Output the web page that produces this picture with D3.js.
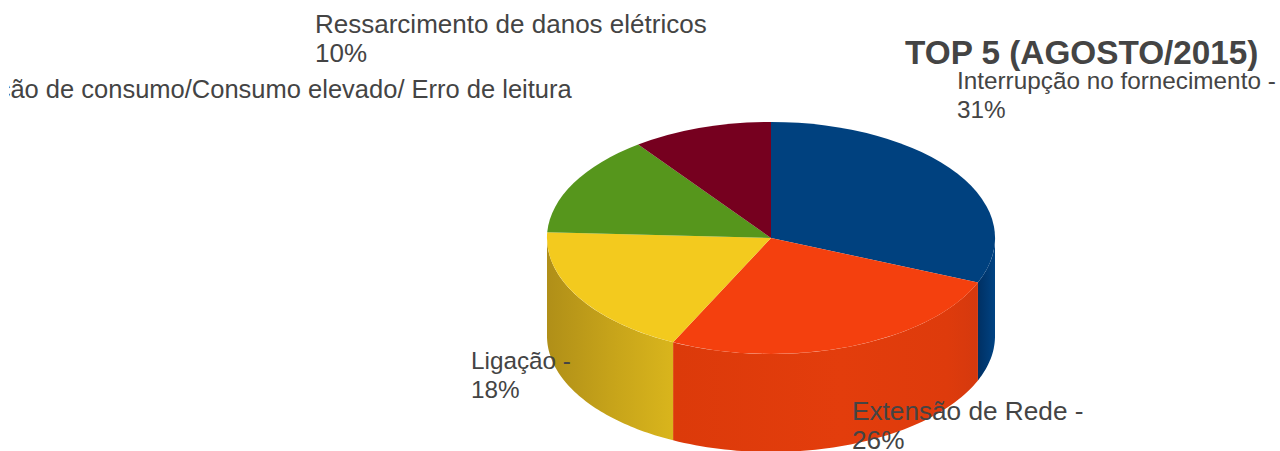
<!DOCTYPE html>
<html><head><meta charset="utf-8">
<script src="https://cdn.jsdelivr.net/npm/d3@7/dist/d3.min.js"></script>
<style>html,body{margin:0;padding:0;background:#fff;overflow:hidden}svg{display:block}text{font-family:"Liberation Sans",Arial,sans-serif;fill:#444}</style>
</head><body>
<script>
const categories = ["Interrupção no fornecimento","Extensão de Rede","Ligação","Variação de consumo/Consumo elevado/ Erro de leitura","Ressarcimento de danos elétricos"];
const values = [31.25,25.95,18.6,14.1,10.1];
const labelLines = [["Interrupção no fornecimento -","31%"],["Extensão de Rede -","26%"],["Ligação -","18%"],["Variação de consumo/Consumo elevado/ Erro de leitura"],["Ressarcimento de danos elétricos","10%"]];
const titleText = "TOP 5 (AGOSTO/2015)";
const topColors = ["#00417f","#f4400e","#f3ca1e","#56961c","#76001f"];
const sideStops = [[["0","#003063"],["1","#004383"]],[["0","#dc3a0a"],["0.55","#e33d0c"],["0.9","#de3b0c"],["1","#d5390e"]],[["0","#b08f18"],["0.5","#c6a31a"],["1","#d9b51c"]]];
const W=1280,H=451,cx=771,cy=238,rx=224,ry=116,depth=98;
const labelAnchors=[[957,89],[852,420],[471,369],[-60,98],[315,33]];
const labelSizes=[24.3,26.2,24.3,25.5,26];

const svg=d3.select("body").append("svg").attr("width",W).attr("height",H);
const defs=svg.append("defs");
defs.append("clipPath").attr("id","lc").append("rect").attr("x",9).attr("y",0).attr("width",W).attr("height",H);

const pie=d3.pie().sort(null).value(d=>d);
const arcs=pie(values);
const px=d3.scaleLinear().domain([-1,1]).range([cx-rx,cx+rx]);
const py=d3.scaleLinear().domain([-1,1]).range([cy-ry,cy+ry]);
const ptx=a=>px(Math.sin(a)), pty=a=>py(-Math.cos(a));

function sidePath(a0,a1){
  const n=60,up=d3.range(n+1).map(i=>a0+(a1-a0)*i/n);
  const top=up.map(a=>[ptx(a),pty(a)]);
  const bot=up.slice().reverse().map(a=>[ptx(a),pty(a)+depth]);
  return d3.line()(top.concat(bot))+"Z";
}
const vis=[[Math.PI/2,arcs[0].endAngle,0],[arcs[1].startAngle,arcs[1].endAngle,1],[arcs[2].startAngle,3*Math.PI/2,2]];
vis.forEach(([a0,a1,i])=>{
  const xs=[ptx(a0),ptx(a1)];
  const g=defs.append("linearGradient").attr("id","s"+i).attr("gradientUnits","userSpaceOnUse")
    .attr("x1",d3.min(xs)).attr("x2",d3.max(xs)).attr("y1",0).attr("y2",0);
  sideStops[i].forEach(s=>g.append("stop").attr("offset",s[0]).attr("stop-color",s[1]));
});
svg.selectAll("path.side").data(vis).join("path").attr("class","side")
  .attr("d",d=>sidePath(d[0],d[1])).attr("fill",d=>`url(#s${d[2]})`);

const arc=d3.arc().innerRadius(0).outerRadius(1);
svg.append("g").attr("transform",`translate(${cx},${cy}) scale(${rx},${ry})`)
  .selectAll("path").data(arcs).join("path").attr("d",arc).attr("fill",(d,i)=>topColors[i]);

svg.append("g").attr("clip-path","url(#lc)").selectAll("text").data(labelLines).join("text")
  .attr("font-size",(d,i)=>labelSizes[i])
  .each(function(lines,i){
    d3.select(this).selectAll("tspan").data(lines).join("tspan")
      .attr("x",labelAnchors[i][0]).attr("y",(d,k)=>labelAnchors[i][1]+k*29).text(d=>d);
  });
svg.append("text").attr("x",905).attr("y",64).attr("font-size",33.3).attr("font-weight","bold").text(titleText);
</script>
</body></html>
